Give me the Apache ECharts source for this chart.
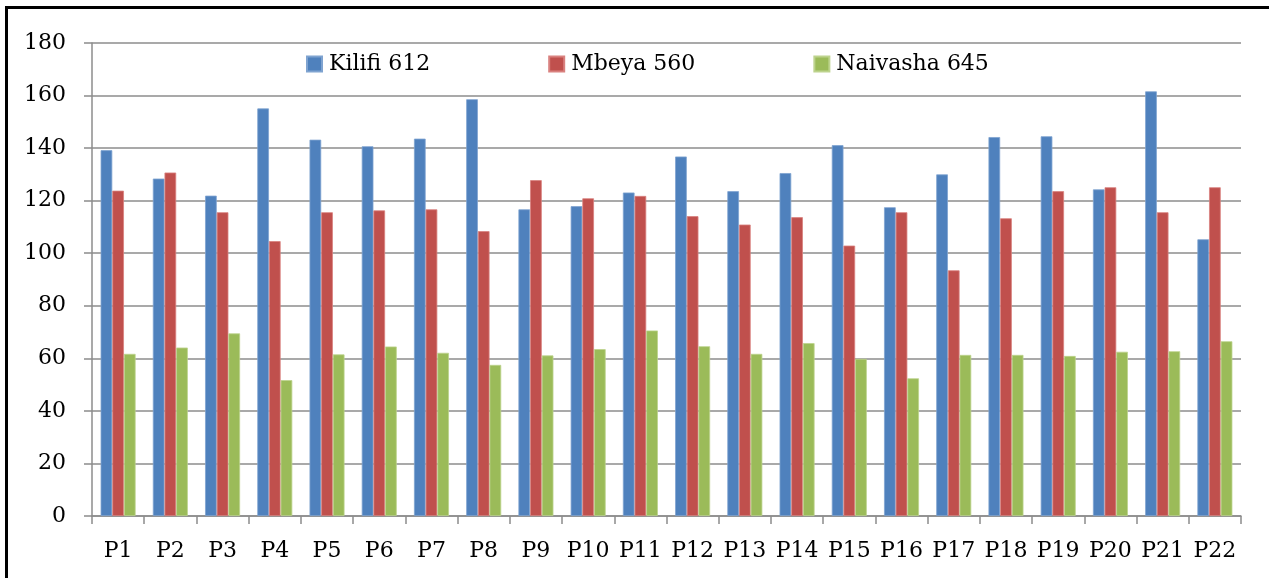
<!DOCTYPE html>
<html>
<head>
<meta charset="utf-8">
<script src="https://cdn.jsdelivr.net/npm/echarts@6/dist/echarts.min.js"></script>
<style>
  html, body { margin: 0; padding: 0; background: #fff; }
  #frame { position: absolute; left: 5px; top: 6px; width: 1300px; height: 600px; border: 3px solid #000; box-sizing: border-box; }
  #chart { position: absolute; left: 0; top: 0; width: 1269px; height: 578px; }
</style>
</head>
<body>
<div id="frame"></div>
<div id="chart"></div>
<script>
// 类别
const categories = ['P1', 'P2', 'P3', 'P4', 'P5', 'P6', 'P7', 'P8', 'P9', 'P10', 'P11',
  'P12', 'P13', 'P14', 'P15', 'P16', 'P17', 'P18', 'P19', 'P20', 'P21', 'P22'];

// 各站点数据
const kilifi = [139.2, 128.4, 121.9, 155.1, 143.2, 140.7, 143.6, 158.6, 116.7, 117.9, 123.1,
  136.8, 123.6, 130.5, 141.1, 117.5, 130.0, 144.2, 144.5, 124.3, 161.6, 105.3];
const mbeya = [123.8, 130.7, 115.6, 104.6, 115.6, 116.3, 116.7, 108.4, 127.8, 120.9, 121.8,
  114.1, 110.9, 113.7, 102.9, 115.6, 93.5, 113.3, 123.6, 125.1, 115.6, 125.1];
const naivasha = [61.7, 64.1, 69.5, 51.7, 61.5, 64.5, 62.1, 57.5, 61.1, 63.5, 70.6,
  64.6, 61.7, 65.8, 59.8, 52.4, 61.3, 61.3, 60.9, 62.5, 62.7, 66.5];

const seriesNames = ['Kilifi 612', 'Mbeya 560', 'Naivasha 645'];
const yTicks = [0, 20, 40, 60, 80, 100, 120, 140, 160, 180];

const chartInstance = echarts.init(document.getElementById('chart'));

const fontFamily = '"DejaVu Serif", "Liberation Serif", serif';
const gray = '#8c8c8c';

const chartData = [
  { name: seriesNames[0], data: kilifi, color: '#4F81BD', border: '#7FA3D0' },
  { name: seriesNames[1], data: mbeya, color: '#C0504D', border: '#D9817F' },
  { name: seriesNames[2], data: naivasha, color: '#9BBB59', border: '#BDD38D' }
];

const seriesData = chartData.map(item => ({
  name: item.name,
  type: 'bar',
  barGap: '0%',
  barCategoryGap: '33%',
  itemStyle: {
    color: item.color,
    borderColor: item.border,
    borderWidth: 0.8
  },
  data: item.data
}));

chartInstance.setOption({
  animation: false,
  textStyle: { fontFamily: fontFamily },
  legend: {
    left: 301,
    top: 48,
    icon: 'rect',
    itemWidth: 15,
    itemHeight: 15,
    itemGap: 118,
    selectedMode: false,
    textStyle: {
      color: '#000',
      fontSize: 22,
      fontFamily: fontFamily,
      padding: [0, 0, 0, 2]
    },
    data: seriesNames
  },
  grid: {
    left: 92,
    right: 28,
    top: 43,
    bottom: 62
  },
  xAxis: {
    type: 'category',
    data: categories,
    axisLine: { show: true, lineStyle: { color: gray, width: 1.5 } },
    axisTick: { show: true, length: 8, alignWithLabel: false, lineStyle: { color: gray, width: 1.5 } },
    axisLabel: { color: '#000', fontSize: 22, margin: 24, interval: 0, fontFamily: fontFamily }
  },
  yAxis: {
    type: 'value',
    min: yTicks[0],
    max: yTicks[yTicks.length - 1],
    interval: yTicks[1] - yTicks[0],
    axisLine: { show: true, lineStyle: { color: gray, width: 1.5 } },
    axisTick: { show: true, length: 8, lineStyle: { color: gray, width: 1.5 } },
    splitLine: { show: true, lineStyle: { color: gray, width: 1.5 } },
    axisLabel: { color: '#000', fontSize: 22, margin: 26, fontFamily: fontFamily }
  },
  series: seriesData
});
</script>
</body>
</html>
